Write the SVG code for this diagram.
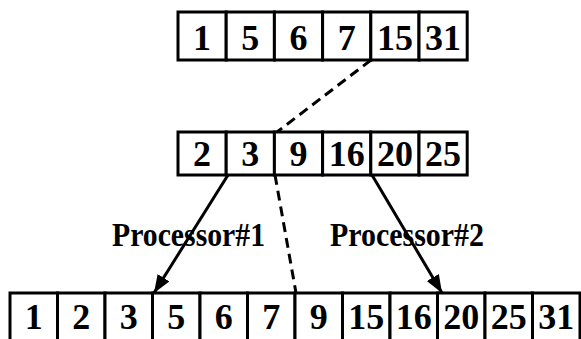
<svg xmlns="http://www.w3.org/2000/svg" width="581" height="339" viewBox="0 0 581 339">
<style>
.cell{fill:#fff;stroke:#000;stroke-width:3}
.num{font-family:"Liberation Serif",serif;font-weight:bold;font-size:36px;text-anchor:middle;fill:#000}
.lbl{font-family:"Liberation Serif",serif;font-weight:bold;font-size:33px;fill:#000}
.solid{stroke:#000;stroke-width:3;fill:none}
.dash{stroke:#000;stroke-width:3;fill:none;stroke-dasharray:10 6}
</style>
<defs>
<marker id="ah" markerUnits="userSpaceOnUse" markerWidth="20" markerHeight="16" refX="18" refY="7" orient="auto">
<path d="M0,0 L18,7 L0,14 Z" fill="#000"/>
</marker>
</defs>
<rect width="581" height="339" fill="#fff"/>
<g id="top-array">
<rect class="cell" x="178" y="12" width="48.2" height="48"/>
<rect class="cell" x="226.2" y="12" width="48.2" height="48"/>
<rect class="cell" x="274.4" y="12" width="48.2" height="48"/>
<rect class="cell" x="322.6" y="12" width="48.2" height="48"/>
<rect class="cell" x="370.8" y="12" width="48.2" height="48"/>
<rect class="cell" x="419" y="12" width="48.2" height="48"/>
<text class="num" x="202.1" y="50">1</text>
<text class="num" x="250.3" y="50">5</text>
<text class="num" x="298.5" y="50">6</text>
<text class="num" x="346.7" y="50">7</text>
<text class="num" x="394.9" y="50">15</text>
<text class="num" x="443.1" y="50">31</text>
</g>
<g id="middle-array">
<rect class="cell" x="178" y="132" width="48.2" height="43"/>
<rect class="cell" x="226.2" y="132" width="48.2" height="43"/>
<rect class="cell" x="274.4" y="132" width="48.2" height="43"/>
<rect class="cell" x="322.6" y="132" width="48.2" height="43"/>
<rect class="cell" x="370.8" y="132" width="48.2" height="43"/>
<rect class="cell" x="419" y="132" width="48.2" height="43"/>
<text class="num" x="202.1" y="166">2</text>
<text class="num" x="250.3" y="166">3</text>
<text class="num" x="298.5" y="166">9</text>
<text class="num" x="346.7" y="166">16</text>
<text class="num" x="394.9" y="166">20</text>
<text class="num" x="443.1" y="166">25</text>
</g>
<g id="bottom-array">
<rect class="cell" x="10" y="293" width="47.5" height="56"/>
<rect class="cell" x="57.5" y="293" width="47.5" height="56"/>
<rect class="cell" x="105" y="293" width="47.5" height="56"/>
<rect class="cell" x="152.5" y="293" width="47.5" height="56"/>
<rect class="cell" x="200" y="293" width="47.5" height="56"/>
<rect class="cell" x="247.5" y="293" width="47.5" height="56"/>
<rect class="cell" x="295" y="293" width="47.5" height="56"/>
<rect class="cell" x="342.5" y="293" width="47.5" height="56"/>
<rect class="cell" x="390" y="293" width="47.5" height="56"/>
<rect class="cell" x="437.5" y="293" width="47.5" height="56"/>
<rect class="cell" x="485" y="293" width="47.5" height="56"/>
<rect class="cell" x="532.5" y="293" width="47.5" height="56"/>
<text class="num" x="33.75" y="329">1</text>
<text class="num" x="81.25" y="329">2</text>
<text class="num" x="128.75" y="329">3</text>
<text class="num" x="176.25" y="329">5</text>
<text class="num" x="223.75" y="329">6</text>
<text class="num" x="271.25" y="329">7</text>
<text class="num" x="318.75" y="329">9</text>
<text class="num" x="366.25" y="329">15</text>
<text class="num" x="413.75" y="329">16</text>
<text class="num" x="461.25" y="329">20</text>
<text class="num" x="508.75" y="329">25</text>
<text class="num" x="556.25" y="329">31</text>
</g>
<g id="connectors">
<line class="dash" x1="371" y1="60" x2="277" y2="132"/>
<line class="dash" x1="275" y1="175" x2="296" y2="293"/>
<line class="solid" x1="228" y1="175" x2="154" y2="293" marker-end="url(#ah)"/>
<line class="solid" x1="372" y1="175" x2="442" y2="293" marker-end="url(#ah)"/>
</g>
<g id="labels">
<text class="lbl" x="112" y="246" textLength="153" lengthAdjust="spacingAndGlyphs">Processor#1</text>
<text class="lbl" x="330" y="246" textLength="154" lengthAdjust="spacingAndGlyphs">Processor#2</text>
</g>
</svg>
